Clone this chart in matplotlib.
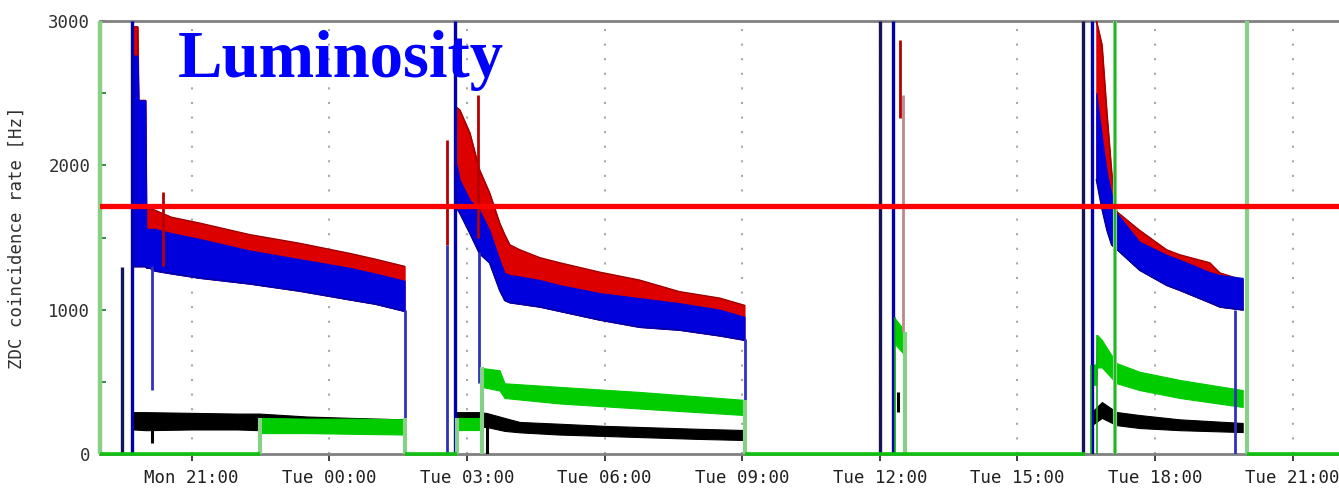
import numpy as np
import matplotlib.pyplot as plt

# time axis in hours counted from Mon 00:00
tick_hours = [21, 24, 27, 30, 33, 36, 39, 42, 45]
tick_labels = ['Mon 21:00', 'Tue 00:00', 'Tue 03:00', 'Tue 06:00', 'Tue 09:00',
               'Tue 12:00', 'Tue 15:00', 'Tue 18:00', 'Tue 21:00']
x_range = (19.0, 46.01)
y_range = (0, 3000)
threshold = 1720

# fill 1 (red = upper envelope, blue = band)
s1_h = [19.74, 19.82, 19.84, 19.99, 20.01, 20.08, 20.19, 20.56, 21.17, 22.26, 23.35, 24.44, 25.0, 25.64]
s1_red_hi = [2960, 2960, 2450, 2450, 1720, 1700, 1690, 1640, 1600, 1520, 1460, 1390, 1350, 1300]
s1_blue_hi = [2760, 2760, 2450, 2450, 1560, 1560, 1560, 1530, 1490, 1410, 1350, 1290, 1250, 1200]
s1_blue_lo = [1300, 1300, 1300, 1300, 1290, 1290, 1270, 1250, 1220, 1180, 1130, 1070, 1040, 990]
s1_black_h = [19.72, 20.0, 21.0, 22.0, 22.48, 23.5, 24.5, 25.64]
s1_black_hi = [290, 290, 285, 280, 280, 260, 250, 240]
s1_black_lo = [170, 165, 170, 170, 165, 150, 150, 145]
s1_green_h = [22.48, 23.5, 24.5, 25.64]
s1_green_hi = [250, 245, 245, 240]
s1_green_lo = [145, 145, 140, 135]

# fill 2
s2_h = [26.78, 26.84, 27.06, 27.27, 27.49, 27.71, 27.82, 27.93, 28.15, 28.59, 29.02,
        29.89, 30.76, 31.63, 32.51, 33.05]
s2_red_hi = [2400, 2385, 2225, 1970, 1810, 1600, 1520, 1450, 1415, 1360, 1325,
             1260, 1205, 1125, 1080, 1030]
s2_blue_hi = [2000, 1900, 1760, 1690, 1550, 1345, 1255, 1240, 1230, 1205, 1170,
              1115, 1080, 1045, 1000, 950]
s2_blue_lo = [1700, 1670, 1530, 1390, 1325, 1135, 1065, 1050, 1040, 1020, 990,
              930, 880, 860, 820, 790]
s2_black_h = [26.75, 27.27, 27.43, 27.82, 28.15, 29.0, 30.0, 31.0, 32.0, 33.05]
s2_black_hi = [290, 290, 284, 250, 222, 210, 195, 185, 175, 166]
s2_black_lo = [190, 190, 187, 160, 150, 135, 125, 115, 105, 97]
s2_green_low_h = [26.78, 27.32]
s2_green_low_hi = [250, 250]
s2_green_low_lo = [166, 166]
s2_green_h = [27.32, 27.71, 27.82, 29.02, 30.76, 33.05]
s2_green_hi = [596, 580, 490, 465, 430, 375]
s2_green_lo = [465, 440, 388, 350, 315, 270]

# fill 3 (short)
s3_green_h = [36.28, 36.5]
s3_green_hi = [960, 870]
s3_green_lo = [780, 700]

# fill 4
s4_h = [40.72, 40.84, 40.95, 41.05, 41.16, 41.66, 42.25, 42.54, 43.19, 43.41, 43.91]
s4_red_hi = [3000, 2835, 2350, 1955, 1680, 1550, 1415, 1380, 1325, 1255, 1205]
s4_blue_hi = [2500, 2200, 1950, 1800, 1670, 1470, 1380, 1345, 1260, 1240, 1220]
s4_blue_lo = [1900, 1700, 1550, 1450, 1420, 1275, 1170, 1135, 1050, 1020, 1000]
s4_green_h = [40.62, 40.71, 40.74, 40.84, 41.16, 41.66, 42.54, 43.91]
s4_green_hi = [620, 620, 825, 790, 630, 570, 513, 443]
s4_green_lo = [480, 480, 600, 600, 490, 443, 388, 326]
s4_black_h = [40.62, 40.84, 41.16, 41.66, 42.54, 43.91]
s4_black_hi = [290, 360, 291, 270, 240, 215]
s4_black_lo = [200, 250, 200, 180, 165, 152]

# vertical spikes / drops
navy_h = [19.47, 36.0, 40.42]
navy_hi = [1296, 3000, 3000]
dblue_h = [19.69, 26.73, 36.28, 40.62]
dblue_hi = [3000, 3000, 3000, 3000]
drop_h = [20.13, 25.64, 26.56, 27.27, 33.05, 43.74]
drop_lo = [440, 0, 0, 490, 0, 0]
drop_hi = [1300, 1000, 1450, 1400, 800, 1000]
red_sp_h = [20.37, 26.56, 27.23, 36.45]
red_sp_lo = [1300, 1450, 1500, 2330]
red_sp_hi = [1815, 2175, 2490, 2870]
pink_sp_h = [36.51]
pink_sp_lo = [845]
pink_sp_hi = [2490]
black_sp_h = [20.13, 27.43, 36.39]
black_sp_lo = [76, 0, 290]
black_sp_hi = [230, 270, 430]
lgreen_h = [22.48, 25.64, 26.78, 27.32, 33.05, 36.54, 41.12, 44.0]
lgreen_hi = [250, 250, 250, 600, 375, 845, 3000, 3000]
dgreen_h = [36.33, 40.6, 40.73, 41.12]
dgreen_hi = [950, 620, 825, 3000]
green_zero_start = [19.0, 25.64, 33.05, 44.0]
green_zero_end = [22.48, 26.78, 40.47, 46.01]

RED = '#dc0000'
BLUE = '#0000dc'
GREEN = '#00cc00'
LGREEN = '#88d088'

fig = plt.figure(figsize=(13.39, 4.92), dpi=100)
ax = fig.add_axes([100 / 1339, 38 / 492, 1239 / 1339, 433 / 492])


def band(h, lo, hi, color, z):
    ax.fill_between(h, lo, hi, color=color, lw=0.8, ec=color, zorder=z)


for h, bl, bh, rh in [(s1_h, s1_blue_lo, s1_blue_hi, s1_red_hi),
                      (s2_h, s2_blue_lo, s2_blue_hi, s2_red_hi),
                      (s4_h, s4_blue_lo, s4_blue_hi, s4_red_hi)]:
    band(h, bl, rh, RED, 3)
    ax.plot(h, rh, color='#a00000', lw=1, zorder=3)
    band(h, bl, bh, BLUE, 4)
    ax.plot(h, bl, color='#0000a0', lw=1, zorder=4)

for h, lo, hi in [(s1_black_h, s1_black_lo, s1_black_hi),
                  (s2_black_h, s2_black_lo, s2_black_hi),
                  (s4_black_h, s4_black_lo, s4_black_hi)]:
    band(h, lo, hi, 'black', 5)

for h, lo, hi in [(s1_green_h, s1_green_lo, s1_green_hi),
                  (s2_green_low_h, s2_green_low_lo, s2_green_low_hi),
                  (s2_green_h, s2_green_lo, s2_green_hi),
                  (s3_green_h, s3_green_lo, s3_green_hi),
                  (s4_green_h, s4_green_lo, s4_green_hi)]:
    band(h, lo, hi, GREEN, 6)

ax.vlines(navy_h, 0, navy_hi, colors='#14145a', lw=2.4, zorder=7)
ax.vlines(dblue_h, 0, dblue_hi, colors='#0000b0', lw=2.4, zorder=7)
ax.vlines(drop_h, drop_lo, drop_hi, colors='#3030c0', lw=2.0, zorder=7)
ax.vlines(red_sp_h, red_sp_lo, red_sp_hi, colors='#b80000', lw=2.0, zorder=7)
ax.vlines(pink_sp_h, pink_sp_lo, pink_sp_hi, colors='#c08888', lw=2.0, zorder=7)
ax.vlines(black_sp_h, black_sp_lo, black_sp_hi, colors='black', lw=2.2, zorder=7)
ax.vlines(lgreen_h, 0, lgreen_hi, colors=LGREEN, lw=3.0, zorder=8)
ax.vlines(dgreen_h, 0, dgreen_hi, colors='#10b010', lw=1.2, zorder=8)
ax.vlines([x_range[0]], 0, 3000, colors=LGREEN, lw=3.2, zorder=8, clip_on=False)
ax.hlines([0] * len(green_zero_start), green_zero_start, green_zero_end,
          colors='#10c010', lw=2.6, zorder=8, clip_on=False)

ax.axhline(threshold, color='#ff0000', lw=3.8, zorder=10)

ax.set_xlim(*x_range)
ax.set_ylim(*y_range)
ax.set_xticks(tick_hours)
ax.set_xticklabels(tick_labels)
ax.set_yticks([0, 1000, 2000, 3000])
ax.set_yticks([500, 1500, 2500], minor=True)
ax.grid(True, axis='x', color='#a8a8a8', lw=1.5, linestyle=(0, (1, 6)), zorder=0)
ax.set_axisbelow(True)

mono = 'DejaVu Sans Mono'
ax.tick_params(axis='x', direction='out', length=5, width=1.4, color='#404040',
               pad=6, labelsize=12.5, labelcolor='#202020')
ax.tick_params(axis='y', which='both', direction='in', length=4, width=1.4,
               color='#3c8a3c', pad=7, labelsize=12.5, labelcolor='#303030')
for lab in ax.get_xticklabels() + ax.get_yticklabels():
    lab.set_family(mono)

ax.set_ylabel('ZDC coincidence rate [Hz]', family=mono, fontsize=12.5, color='#303030')
ax.yaxis.set_label_coords(-0.06, 0.5)

for side in ['left', 'right']:
    ax.spines[side].set_visible(False)
for side in ['top', 'bottom']:
    ax.spines[side].set_color('#808080')
    ax.spines[side].set_linewidth(2.0)

fig.text(178 / 1339, (492 - 77) / 492, 'Luminosity', family='Liberation Serif',
         fontweight='bold', fontsize=48, color='#0000ff', va='baseline', zorder=20)

fig.savefig('out.png', dpi=100)
